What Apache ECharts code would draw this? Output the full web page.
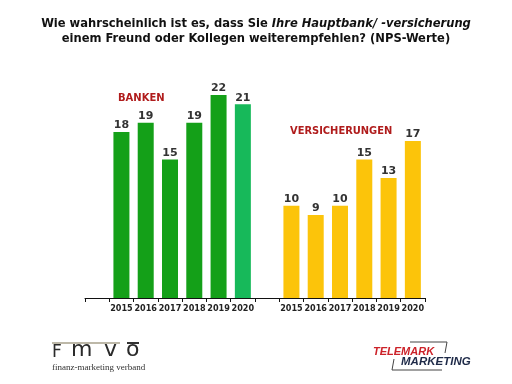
<!DOCTYPE html>
<html>
<head>
<meta charset="utf-8">
<script src="https://cdn.jsdelivr.net/npm/echarts@6/dist/echarts.min.js"></script>
<style>
  html, body { margin: 0; padding: 0; background: #fff; }
  #chart { width: 512px; height: 384px; }
</style>
</head>
<body>
<div id="chart"></div>
<script>
// Daten (NPS-Werte)
const years = ['2015', '2016', '2017', '2018', '2019', '2020'];
const banken = [18, 19, 15, 19, 22, 21];
const versicherungen = [10, 9, 10, 15, 13, 17];

const bankColor = '#14a018';
const bankColorLast = '#17b95a';
const versColor = '#fcc40a';

// leere Kategorie vorne und zwischen den Gruppen
const categories = [''].concat(years, [''], years);
const barData = ['-'];
banken.forEach(function (v, i) {
    barData.push({ value: v, itemStyle: { color: i === banken.length - 1 ? bankColorLast : bankColor } });
});
barData.push('-');
versicherungen.forEach(function (v) {
    barData.push({ value: v, itemStyle: { color: versColor } });
});

const myChart = echarts.init(document.getElementById('chart'));
const option = {
    animation: false,
    title: {
        left: 'center',
        top: 11,
        text: '{b|Wie wahrscheinlich ist es, dass Sie }{i|Ihre Hauptbank/ -versicherung}\n{b|einem Freund oder Kollegen weiterempfehlen? (NPS-Werte)}',
        textStyle: {
            rich: {
                b: { fontFamily: 'DejaVu Sans Condensed', fontWeight: 'bold', fontSize: 12.8, color: '#111', lineHeight: 15 },
                i: { fontFamily: 'DejaVu Sans Condensed', fontWeight: 'bold', fontStyle: 'italic', fontSize: 12.8, color: '#111', lineHeight: 15 }
            }
        }
    },
    grid: { left: 85, right: 87, top: 76.5, bottom: 86 },
    xAxis: {
        type: 'category',
        data: categories,
        axisLine: { lineStyle: { color: '#111', width: 1 } },
        axisTick: { show: true, interval: 0, length: 4, lineStyle: { color: '#111' } },
        axisLabel: {
            interval: 0,
            margin: 6,
            fontFamily: 'DejaVu Sans Condensed',
            fontWeight: 'bold',
            fontSize: 9,
            color: '#222'
        }
    },
    yAxis: {
        type: 'value',
        min: 0,
        max: 24,
        show: false,
        splitLine: { show: false }
    },
    series: [{
        type: 'bar',
        data: barData,
        barWidth: 16,
        label: {
            show: true,
            position: 'top',
            distance: 1,
            fontFamily: 'DejaVu Sans',
            fontWeight: 'bold',
            fontSize: 11,
            color: '#333'
        }
    }],
    graphic: [
        { type: 'text', left: 118, top: 93, style: { text: 'BANKEN', font: 'bold 10px "DejaVu Sans"', fill: '#b01c1c' } },
        { type: 'text', left: 290, top: 126, style: { text: 'VERSICHERUNGEN', font: 'bold 11px "DejaVu Sans Condensed"', fill: '#b01c1c' } },
        // FMVÖ Logo
        { type: 'rect', shape: { x: 52, y: 342, width: 68, height: 2 }, style: { fill: '#bdb8a8' } },
        { type: 'rect', shape: { x: 127, y: 342, width: 12, height: 2 }, style: { fill: '#333' } },
        { type: 'text', left: 52, top: 344, style: { text: 'F', font: '17px "DejaVu Sans"', fill: '#2a2a2a' } },
        { type: 'text', left: 71, top: 339, style: { text: 'm', font: '22px "DejaVu Sans"', fill: '#2a2a2a' } },
        { type: 'text', left: 104, top: 339, style: { text: 'v', font: '22px "DejaVu Sans"', fill: '#2a2a2a' } },
        { type: 'text', left: 126, top: 339, style: { text: 'o', font: '22px "DejaVu Sans"', fill: '#2a2a2a' } },
        { type: 'text', left: 52, top: 363, style: { text: 'finanz-marketing verband', font: '9px "Liberation Serif"', fill: '#333' } },
        // Telemark Logo
        { type: 'text', left: 373, top: 346, style: { text: 'TELEMARK', font: 'italic bold 11px "Liberation Sans"', fill: '#cc2229' } },
        { type: 'text', left: 401, top: 356, style: { text: 'MARKETING', font: 'italic bold 11.5px "Liberation Sans"', fill: '#1e2a48' } },
        { type: 'polyline', shape: { points: [[410, 342], [447, 342], [445, 353]] }, style: { stroke: '#444', lineWidth: 1, fill: null } },
        { type: 'polyline', shape: { points: [[394, 359], [392, 370], [442, 370]] }, style: { stroke: '#444', lineWidth: 1, fill: null } }
    ]
};
myChart.setOption(option);
</script>
</body>
</html>
